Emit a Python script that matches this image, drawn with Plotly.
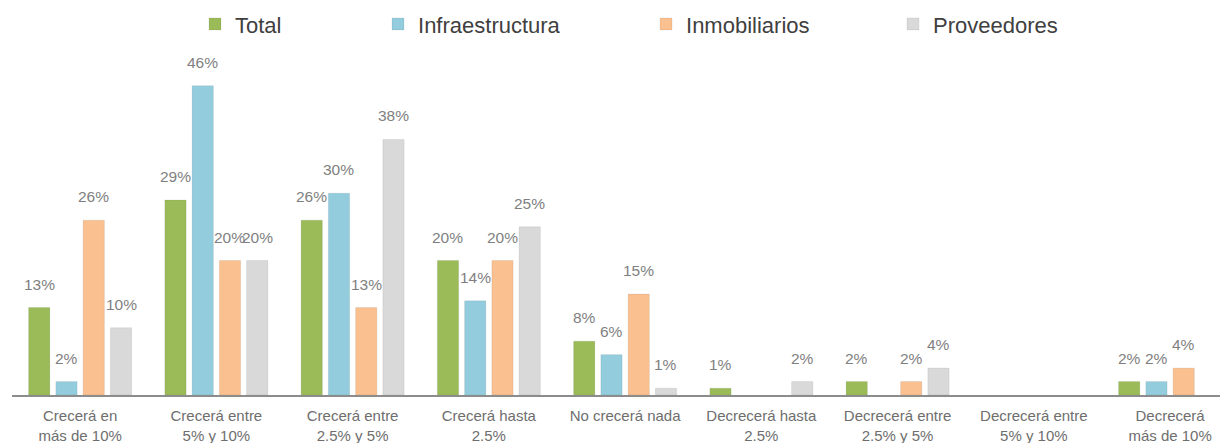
import plotly.graph_objects as go

categories = [
    "Crecerá en<br>más de 10%",
    "Crecerá entre<br>5% y 10%",
    "Crecerá entre<br>2.5% y 5%",
    "Crecerá hasta<br>2.5%",
    "No crecerá nada",
    "Decrecerá hasta<br>2.5%",
    "Decrecerá entre<br>2.5% y 5%",
    "Decrecerá entre<br>5% y 10%",
    "Decrecerá<br>más de 10%",
]
total = [13, 29, 26, 20, 8, 1, 2, None, 2]
infraestructura = [2, 46, 30, 14, 6, None, None, None, 2]
inmobiliarios = [26, 20, 13, 20, 15, None, 2, None, 4]
proveedores = [10, 20, 38, 25, 1, 2, 4, None, None]

series = [
    ("Total", total, "#9BBB59", "legend", 0.1505),
    ("Infraestructura", infraestructura, "#93CDDD", "legend2", 0.301),
    ("Inmobiliarios", inmobiliarios, "#FAC090", "legend3", 0.5214),
    ("Proveedores", proveedores, "#D9D9D9", "legend4", 0.7245),
]

FONT = "Liberation Sans"
BARGAP = 0.2
n_series = len(series)
slot = (1 - BARGAP) / n_series

fig = go.Figure()
x_idx = list(range(len(categories)))
annotations = []
for i, (name, vals, color, leg, _) in enumerate(series):
    fig.add_trace(go.Bar(
        x=x_idx, y=vals, name=name, legend=leg,
        marker=dict(color=color, line=dict(color="rgba(0,0,0,0.07)", width=1)),
        hoverinfo="x+y+name",
    ))
    off = -(1 - BARGAP) / 2 + slot * (i + 0.5)
    for xi, v in zip(x_idx, vals):
        if v is None:
            continue
        annotations.append(dict(
            x=xi + off, y=v, xref="x", yref="y",
            text=f"{v}%", showarrow=False,
            xanchor="center", yanchor="bottom", yshift=13,
            font=dict(family=FONT, size=15.5, color="#7f7f7f"),
        ))

legend_layouts = {}
for name, vals, color, leg, xpos in series:
    legend_layouts[leg] = dict(
        x=xpos, y=1.075, xanchor="left", yanchor="middle",
        orientation="h", bgcolor="rgba(0,0,0,0)",
        font=dict(family=FONT, size=22, color="#404040"),
        itemwidth=30,
    )

fig.update_layout(
    width=1220, height=435,
    margin=dict(l=4, r=0, t=42, b=48, autoexpand=False),
    plot_bgcolor="white", paper_bgcolor="white",
    barmode="group", bargap=BARGAP, bargroupgap=0.22,
    showlegend=True,
    annotations=annotations,
    **legend_layouts,
    xaxis=dict(
        tickmode="array", tickvals=x_idx, ticktext=categories,
        range=[-0.5, 8.425],
        showline=True, linecolor="#8c8c8c", linewidth=2,
        showgrid=False, zeroline=False, ticks="",
        ticklabelstandoff=6, automargin=False,
        tickfont=dict(family=FONT, size=15, color="#6e6e6e"),
    ),
    yaxis=dict(range=[0, 51.3], visible=False, showgrid=False, zeroline=False),
)

fig.write_html("out.html")
